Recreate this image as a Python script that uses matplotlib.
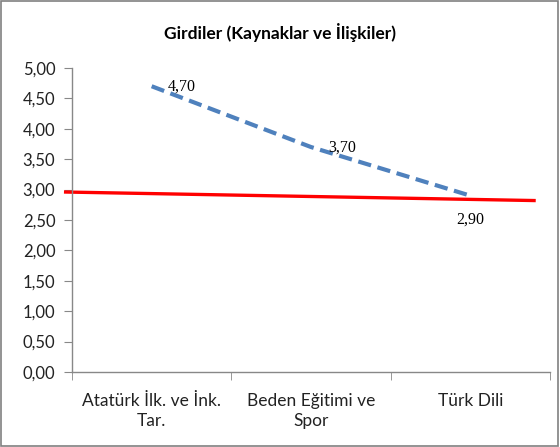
import matplotlib
matplotlib.use('Agg')
import matplotlib.pyplot as plt
from matplotlib.patches import Rectangle
from matplotlib.ticker import FuncFormatter

plt.rcParams['font.family'] = ['Lato', 'DejaVu Sans']

# veriler
categories = ['Atatürk İlk. ve İnk.\nTar.', 'Beden Eğitimi ve\nSpor', 'Türk Dili']
values = [4.70, 3.70, 2.90]
value_labels = ['4,70', '3,70', '2,90']
# kırmızı referans çizgisi (uç noktalar)
ref_x = [-0.54, 2.40]
ref_y = [2.96, 2.82]
y_ticks = [0, 0.5, 1, 1.5, 2, 2.5, 3, 3.5, 4, 4.5, 5]

fig = plt.figure(figsize=(5.6, 4.47), dpi=100)
ax = fig.add_axes([72 / 560, 1 - 372 / 447, 478 / 560, 304 / 447])

x = list(range(len(categories)))
ax.plot(x, values, color='#4F81BD', lw=3, dashes=(3.2, 1.6), solid_capstyle='butt',
        dash_capstyle='butt', zorder=3)
ax.plot(ref_x, ref_y, color='#FF0000', lw=2.4, clip_on=False, zorder=2)

offsets = [(16, 0, 'left', 'center'), (17, -1, 'left', 'center'), (0, -24, 'center', 'center')]
for xi, v, lab, (dx, dy, ha, va) in zip(x, values, value_labels, offsets):
    ax.annotate(lab, (xi, v), xytext=(dx * 0.72, dy * 0.72), textcoords='offset points',
                ha=ha, va=va, fontsize=11.5, family=['Liberation Serif', 'DejaVu Serif'])

ax.set_xlim(-0.5, 2.5)
ax.set_ylim(0, 5)
ax.set_yticks(y_ticks)
ax.yaxis.set_major_formatter(FuncFormatter(lambda v, p: f'{v:.2f}'.replace('.', ',')))
ax.set_xticks(x)
ax.set_xticklabels(categories, fontsize=12.5, color='#222222', linespacing=1.3)
ax.set_xticks([-0.5, 0.5, 1.5, 2.5], minor=True)
ax.tick_params(axis='x', which='major', length=0, pad=15)
ax.tick_params(axis='x', which='minor', length=6, color='#888888', direction='out')
ax.tick_params(axis='y', length=6, color='#888888', labelsize=12, labelcolor='#222222', pad=6)

for s in ['top', 'right']:
    ax.spines[s].set_visible(False)
for s in ['left', 'bottom']:
    ax.spines[s].set_color('#888888')
    ax.spines[s].set_linewidth(1)

fig.text(0.5, 1 - 33 / 447, 'Girdiler (Kaynaklar ve İlişkiler)', ha='center', va='center',
         fontsize=12.5, fontweight='bold')

fig.patches.append(Rectangle((1 / 560, 1 / 447), 557 / 560, 445 / 447, transform=fig.transFigure,
                             fill=False, edgecolor='#808080', lw=1.2))

fig.savefig('out.png', dpi=100)
